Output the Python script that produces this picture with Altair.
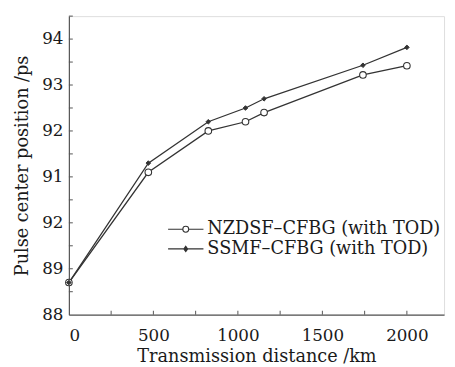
import altair as alt
import pandas as pd

# ---- data ----
distance = [0, 470, 825, 1045, 1155, 1740, 2000]
nzdsf = [88.7, 91.1, 92.0, 92.2, 92.4, 93.22, 93.42]
ssmf = [88.7, 91.3, 92.2, 92.5, 92.7, 93.43, 93.82]
series = ["NZDSF–CFBG (with TOD)", "SSMF–CFBG (with TOD)"]
x_labels = [0, 500, 1000, 1500, 2000]
y_labels = [88, 89, 90, 91, 92, 93, 94]
x_minor = [250, 500, 750, 1000, 1250, 1500, 1750, 2000]
y_minor = [88.5, 89, 89.5, 90, 90.5, 91, 91.5, 92, 92.5, 93, 93.5, 94, 94.5]

rows = []
for d, a, b in zip(distance, nzdsf, ssmf):
    rows.append({"distance": d, "position": a, "series": series[0]})
    rows.append({"distance": d, "position": b, "series": series[1]})
df = pd.DataFrame(rows)

FONT = "DejaVu Serif"
TXT = "#1a1a1a"
AX = "#555"
LN = "#333"
W, H = 382, 304

xs = alt.Scale(domain=[0, 2220], nice=False)
ys = alt.Scale(domain=[88, 94.5], nice=False)

x_enc = alt.X("distance:Q", scale=xs, axis=alt.Axis(
    values=x_labels, format="d", title="Transmission distance /km", ticks=False,
    grid=False, domainColor=AX, domainWidth=1.2, labelFont=FONT, labelFontSize=17,
    labelColor=TXT, labelPadding=13, titleFont=FONT, titleFontSize=18,
    titleFontWeight="normal", titleColor=TXT, titlePadding=5))
y_enc = alt.Y("position:Q", scale=ys, axis=alt.Axis(
    values=y_labels, title="Pulse center position /ps", ticks=False, grid=False,
    labelExpr="datum.value == 90 ? '92' : datum.label",
    domainColor=AX, domainWidth=1.2, labelFont=FONT, labelFontSize=17,
    labelColor=TXT, labelPadding=6, titleFont=FONT, titleFontSize=18,
    titleFontWeight="normal", titleColor=TXT, titlePadding=10))

lines = alt.Chart(df).mark_line(color=LN, strokeWidth=1.3).encode(
    x=x_enc, y=y_enc, detail="series:N")

circles = alt.Chart(df).transform_filter(
    alt.datum.series == series[0]
).mark_point(shape="circle", filled=True, fill="white", stroke=LN,
             strokeWidth=1.1, size=45, opacity=1).encode(
    x="distance:Q", y="position:Q")

diamonds = alt.Chart(df).transform_filter(
    alt.datum.series == series[1]
).mark_point(shape="diamond", filled=True, fill=LN, stroke=LN,
             strokeWidth=1, size=22, opacity=1).encode(
    x="distance:Q", y="position:Q")

circle_path = ("M-3,0H-0.5M0.5,0H3M0.5,0A0.5,0.5,0,1,1,-0.5,0"
               "A0.5,0.5,0,1,1,0.5,0Z")
diamond_path = "M-3,0H3M0,-0.45L0.33,0L0,0.45L-0.33,0Z"

leg = alt.Legend(
    title=None, orient="none", legendX=110, legendY=208, padding=0,
    symbolSize=144, symbolOpacity=1, symbolStrokeWidth=1.1,
    labelFont=FONT, labelFontSize=18, labelColor=TXT, labelOffset=13,
    rowPadding=2, labelLimit=400)

legend_layer = alt.Chart(df).mark_point(
    filled=True, strokeWidth=1.1, opacity=0).encode(
    x="distance:Q", y="position:Q",
    shape=alt.Shape("series:N", scale=alt.Scale(domain=series,
                    range=[circle_path, diamond_path]), legend=leg),
    fill=alt.Fill("series:N", scale=alt.Scale(domain=series,
                  range=["white", LN]), legend=leg),
    stroke=alt.Stroke("series:N", scale=alt.Scale(domain=series,
                      range=[LN, LN]), legend=leg))

xticks = alt.Chart(pd.DataFrame({"t": x_minor})).mark_rule(
    color=AX, strokeWidth=1).encode(
    x=alt.X("t:Q", scale=xs), y=alt.value(H), y2=alt.value(H - 4))
yticks = alt.Chart(pd.DataFrame({"t": y_minor})).mark_rule(
    color=AX, strokeWidth=1).encode(
    y=alt.Y("t:Q", scale=ys), x=alt.value(0), x2=alt.value(4))

chart = alt.layer(xticks, yticks, lines, circles, diamonds, legend_layer).properties(
    width=W, height=H,
    autosize=alt.AutoSizeParams(type="none"),
    padding={"left": 62, "top": 5, "right": 3, "bottom": 50},
).configure_view(stroke=None).configure(background="white")

chart.save("out.html", embed_options={"renderer": "svg", "actions": False})
